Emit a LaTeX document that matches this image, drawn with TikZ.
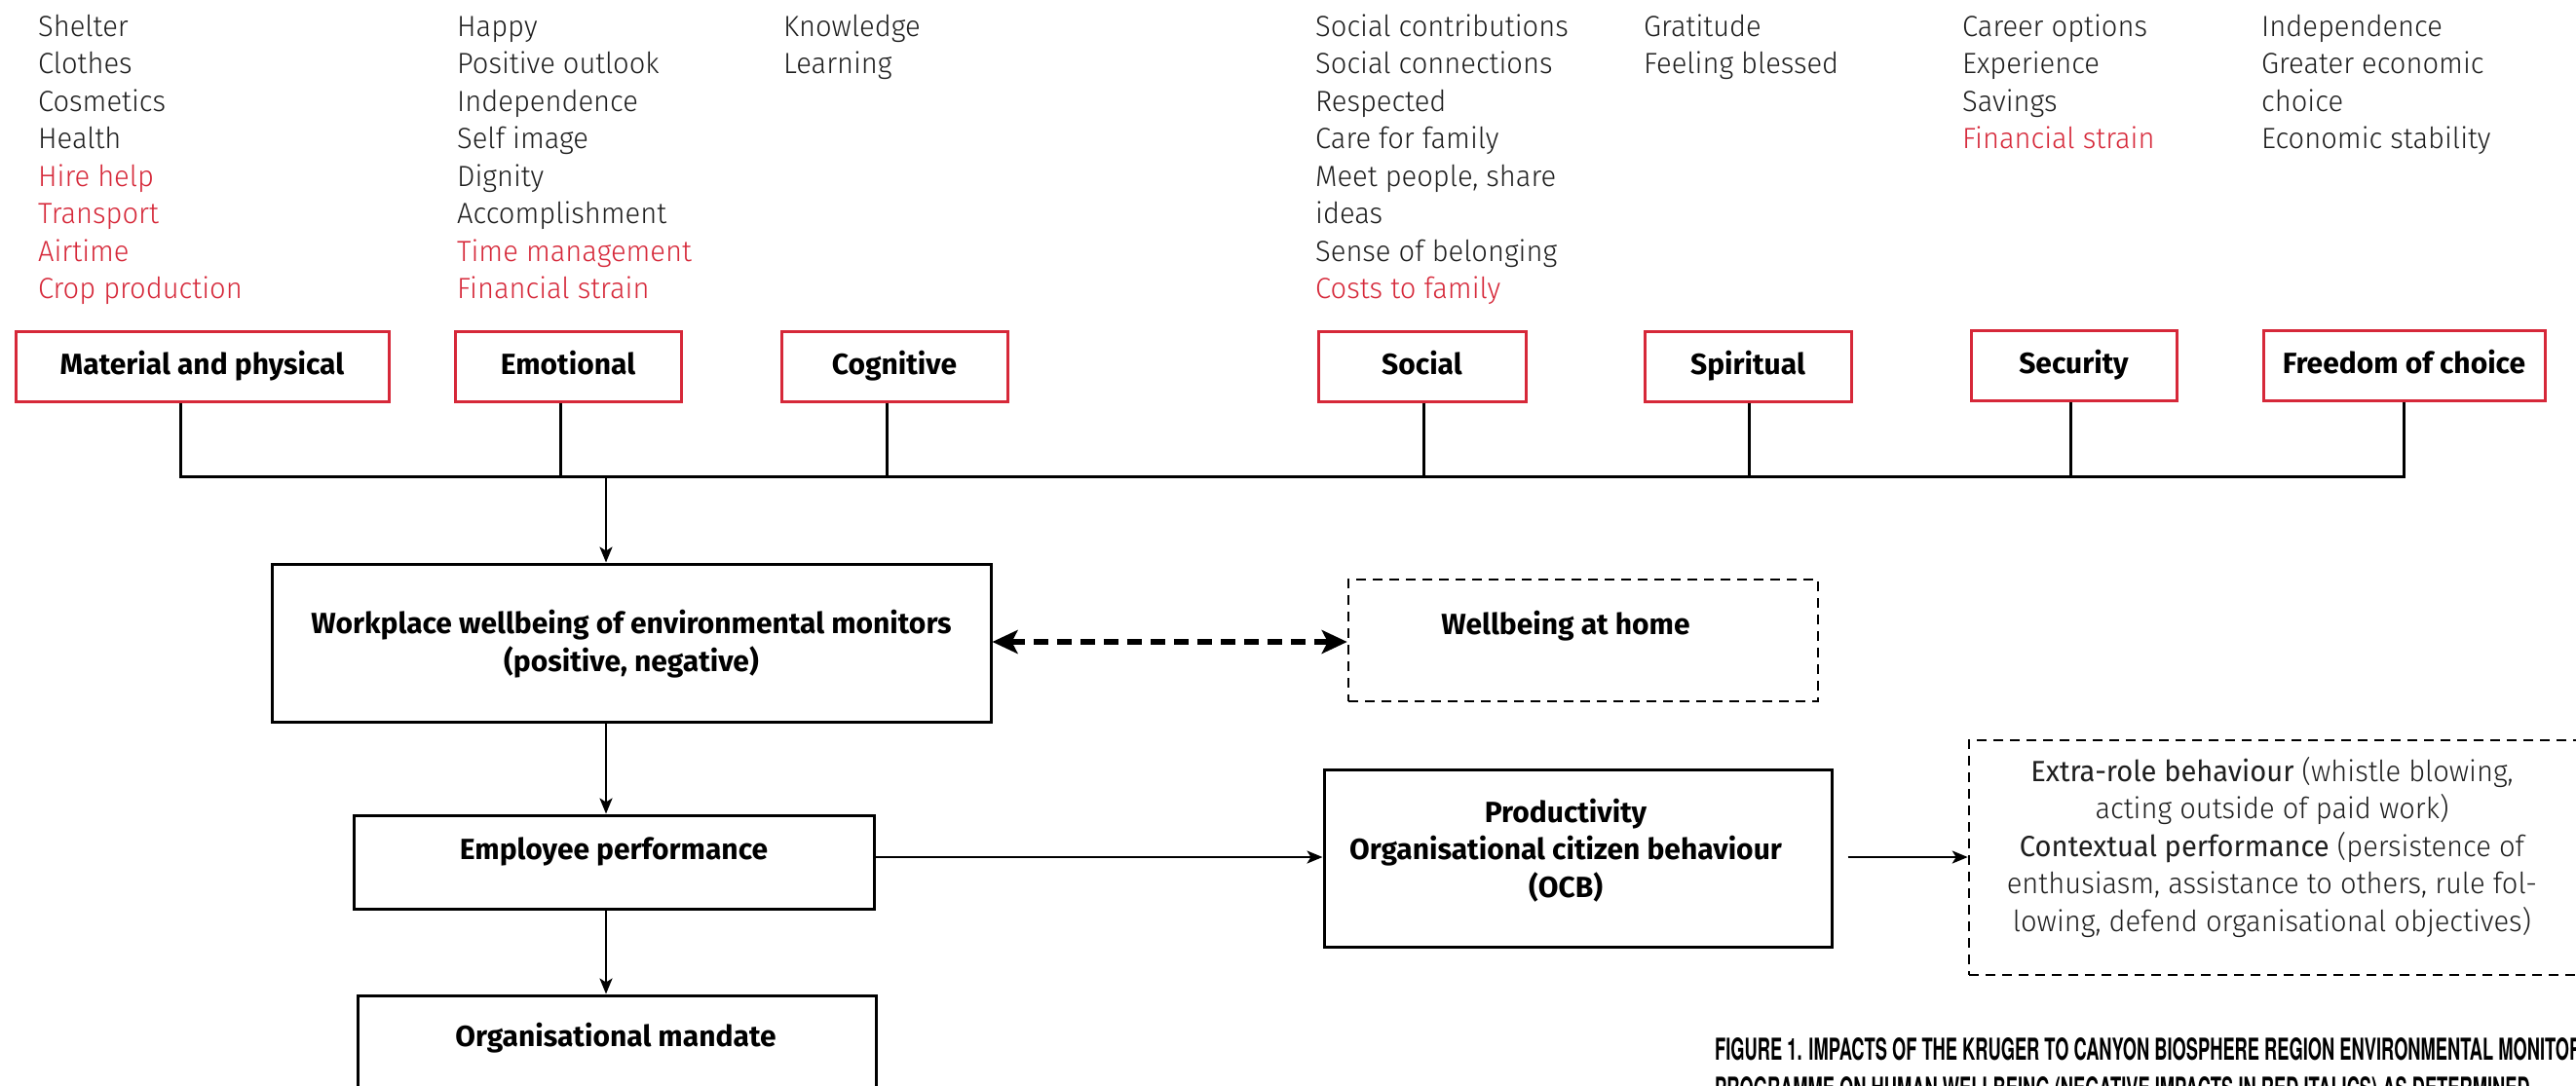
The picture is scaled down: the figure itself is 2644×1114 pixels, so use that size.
\documentclass[tikz,border=0pt]{standalone}
\usepackage{fontspec}
\setmainfont{Fira Sans}[UprightFont=* Light, BoldFont=* Bold, UprightFeatures={FakeStretch=0.97}]
\newfontfamily\regfont{Fira Sans}[FakeStretch=0.97]
\newfontfamily\capfont{TeX Gyre Heros}[FakeStretch=0.59]
\usetikzlibrary{arrows.meta}
\definecolor{kred}{RGB}{214,40,57}
\definecolor{ktxt}{RGB}{30,30,30}
\tikzset{
  listtxt/.style={anchor=base west, inner sep=0, text=ktxt, font=\fontsize{30}{38.5}\selectfont},
  catbox/.style={draw=kred, line width=3pt, minimum height=72pt, inner sep=0, text height=23pt, text depth=7pt, font=\fontsize{30}{36}\selectfont\bfseries},
  blkbox/.style={draw=black, line width=3pt, inner sep=0},
  dbox/.style={draw=black, line width=2.5pt, dash pattern=on 10pt off 7pt, inner sep=0},
  boldtxt/.style={inner sep=0, align=center, font=\fontsize{30}{38.5}\selectfont\bfseries},
  conn/.style={line width=3pt, line join=miter},
  arr/.style={line width=2.5pt, -{Stealth[length=16pt,width=13pt,inset=4pt]}},
  dblarr/.style={line width=6pt, dash pattern=on 15pt off 9pt, {Stealth[length=26pt,width=24pt,inset=6pt]}-{Stealth[length=26pt,width=24pt,inset=6pt]}}
}
\begin{document}
\begin{tikzpicture}[x=1pt,y=-1pt]
\useasboundingbox (0,0) rectangle (2644,1114);
\begin{scope}
\clip (0,0) rectangle (2644,1114);
\fill[white] (0,0) rectangle (2644,1114);

% top lists
\node[listtxt] (l1) at (39,37) {\begin{tabular}[t]{@{}l@{}}Shelter\\Clothes\\Cosmetics\\Health\\\color{kred}Hire help\\\color{kred}Transport\\\color{kred}Airtime\\\color{kred}Crop production\end{tabular}};
\node[listtxt] (l2) at (469,37) {\begin{tabular}[t]{@{}l@{}}Happy\\Positive outlook\\Independence\\Self image\\Dignity\\Accomplishment\\\color{kred}Time management\\\color{kred}Financial strain\end{tabular}};
\node[listtxt] (l3) at (804,37) {\begin{tabular}[t]{@{}l@{}}Knowledge\\Learning\end{tabular}};
\node[listtxt] (l4) at (1350,37) {\begin{tabular}[t]{@{}l@{}}Social contributions\\Social connections\\Respected\\Care for family\\Meet people, share\\ideas\\Sense of belonging\\\color{kred}Costs to family\end{tabular}};
\node[listtxt] (l5) at (1687,37) {\begin{tabular}[t]{@{}l@{}}Gratitude\\Feeling blessed\end{tabular}};
\node[listtxt] (l6) at (2014,37) {\begin{tabular}[t]{@{}l@{}}Career options\\Experience\\Savings\\\color{kred}Financial strain\end{tabular}};
\node[listtxt] (l7) at (2321,37) {\begin{tabular}[t]{@{}l@{}}Independence\\Greater economic\\choice\\Economic stability\end{tabular}};

% category boxes
\node[catbox, minimum width=383pt] (mat) at (207.5,376) {Material and physical};
\node[catbox, minimum width=232pt] (emo) at (583,376) {Emotional};
\node[catbox, minimum width=232pt] (cog) at (918,376) {Cognitive};
\node[catbox, minimum width=213pt] (soc) at (1459.5,376) {Social};
\node[catbox, minimum width=212pt] (spi) at (1794,376) {Spiritual};
\node[catbox, minimum width=211pt] (sec) at (2128.5,375) {Security};
\node[catbox, minimum width=289pt] (fre) at (2467.5,375) {Freedom of choice};

% bus
\coordinate (b1) at (185,489);
\coordinate (b2) at (575,489);
\coordinate (b3) at (910,489);
\coordinate (b4) at (1461,489);
\coordinate (b5) at (1795,489);
\coordinate (b6) at (2125,489);
\coordinate (b7) at (2467,489);
\coordinate (b0) at (622,489);
\draw[conn] (mat.south -| b1) -- (b1) -- (b7) -- (fre.south -| b7);
\draw[conn] (emo.south -| b2) -- (b2);
\draw[conn] (cog.south -| b3) -- (b3);
\draw[conn] (soc.south -| b4) -- (b4);
\draw[conn] (spi.south -| b5) -- (b5);
\draw[conn] (sec.south -| b6) -- (b6);

% main boxes
\node[blkbox, minimum width=738pt, minimum height=162pt] (wp) at (648,660) {};
\node[boldtxt] (wpt) at (648,661) {Workplace wellbeing of environmental monitors\\(positive, negative)};
\node[dbox, minimum width=482pt, minimum height=125pt] (home) at (1625,657.5) {};
\node[boldtxt] (homet) at (1607,643) {Wellbeing at home};
\node[blkbox, minimum width=534pt, minimum height=96pt] (emp) at (630,885) {};
\node[boldtxt] (empt) at (630,874) {Employee performance};
\node[blkbox, minimum width=532pt, minimum height=138pt] (org) at (633,1091) {};
\node[boldtxt] (orgt) at (632,1066) {Organisational mandate};
\node[blkbox, minimum width=521pt, minimum height=182pt] (prod) at (1619.5,881) {};
\node[boldtxt] (prodt) at (1607,873) {Productivity\\Organisational citizen behaviour\\(OCB)};
\node[dbox, minimum width=679pt, minimum height=241pt] (extra) at (2360.5,880.5) {};
\node[inner sep=0, align=center, text=ktxt, font=\fontsize{30}{38.5}\selectfont] (extrat) at (2332,870) {{\regfont Extra-role behaviour} (whistle blowing,\\acting outside of paid work)\\{\regfont Contextual performance} (persistence of\\enthusiasm, assistance to others, rule fol-\\lowing, defend organisational objectives)};

% arrows
\coordinate (ay) at (0,880);
\coordinate (hy) at (0,659);
\draw[arr] (b0) -- (b0 |- wp.north);
\draw[arr] (wp.south -| b0) -- (emp.north -| b0);
\draw[arr] (emp.south -| b0) -- (org.north -| b0);
\draw[arr] (emp.east |- ay) -- (prod.west |- ay);
\draw[arr] ([xshift=15pt]prod.east |- ay) -- (extra.west |- ay);
\draw[dblarr] (wp.east |- hy) -- (home.west |- hy);

% caption
\node[anchor=base west, inner sep=0, align=left, font=\fontsize{31}{40}\selectfont\capfont\bfseries] (cap) at (1760,1088) {\begin{tabular}[t]{@{}l@{}}FIGURE 1. IMPACTS OF THE KRUGER TO CANYON BIOSPHERE REGION ENVIRONMENTAL MONITOR\\PROGRAMME ON HUMAN WELLBEING (NEGATIVE IMPACTS IN RED ITALICS) AS DETERMINED\end{tabular}};
\end{scope}
\end{tikzpicture}
\end{document}
